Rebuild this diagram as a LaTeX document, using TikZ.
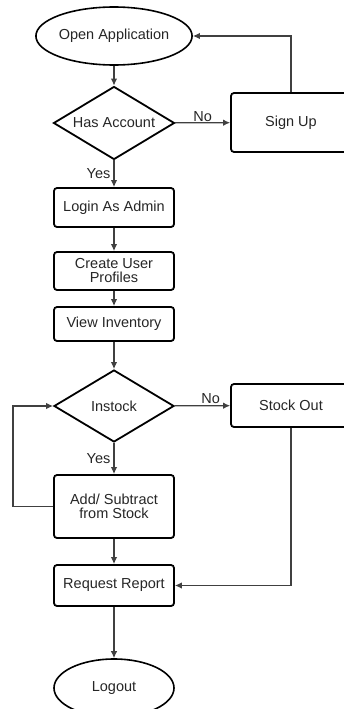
\documentclass[tikz,border=0pt]{standalone}
\usepackage{fontspec}
\setmainfont{Liberation Sans}
\usetikzlibrary{arrows.meta,shapes.geometric}

\begin{document}
\begin{tikzpicture}[x=1pt,y=-1pt,
  every node/.style={font=\fontsize{14.5}{14}\selectfont,text=black!85},
  box/.style={draw,line width=1.8pt,rounded corners=3pt,minimum width=120pt,align=center,inner sep=0pt},
  oval/.style={draw,ellipse,line width=1.6pt,minimum width=122pt,minimum height=58pt,inner sep=0pt},
  test/.style={draw,diamond,aspect=1.65,line width=1.8pt,minimum width=121pt,minimum height=73pt,inner sep=0pt},
  link/.style={-{Latex[length=7pt,width=6.5pt]},line width=1.2pt,draw=black!75}]
\useasboundingbox (0,0) rectangle (344,709);
\clip (0,0) rectangle (344,709);
\node[oval] (open) at (114,36) {Open Application};
\node[test] (acc) at (114,123) {Has Account};
\node[box,minimum height=59pt] (signup) at (291,122.5) {Sign Up};
\node[box,minimum height=39pt] (login) at (114,207.5) {Login As Admin};
\node[box,minimum height=38pt] (profiles) at (114,271) {Create User\\Profiles};
\node[box,minimum height=34pt] (inventory) at (114,324) {View Inventory};
\node[test,minimum height=72pt,minimum width=120pt] (instock) at (114,406) {Instock};
\node[box,minimum height=43pt] (stockout) at (291,405.5) {Stock Out};
\node[box,minimum height=63pt] (addsub) at (114,506.5) {Add/ Subtract\\from Stock};
\node[box,minimum height=41pt] (report) at (114,585.5) {Request Report};
\node[oval,minimum width=120pt] (logout) at (114,688) {Logout};
\coordinate (loopcorner) at (13,506.5);
\draw[link] (open) -- (acc);
\draw[link] (acc) -- node[above,inner sep=1pt]{No} (signup);
\draw[link] (signup.north) |- (open.east);
\draw[link] (acc) -- node[left,inner sep=3pt]{Yes} (login);
\draw[link] (login) -- (profiles);
\draw[link] (profiles) -- (inventory);
\draw[link] (inventory) -- (instock);
\draw[link] (instock) -- node[above,pos=.65,inner sep=1pt]{No} (stockout);
\draw[link] (instock) -- node[left,inner sep=3pt]{Yes} (addsub);
\draw[link] (addsub.west) -- (loopcorner) |- (instock.west);
\draw[link] (addsub) -- (report);
\draw[link] (stockout.south) |- (report.east);
\draw[link] (report) -- (logout);
\end{tikzpicture}
\end{document}
